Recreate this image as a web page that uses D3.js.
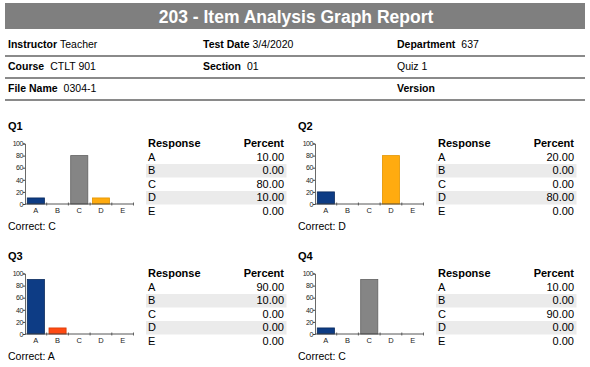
<!DOCTYPE html>
<html>
<head>
<meta charset="utf-8">
<script src="https://cdn.jsdelivr.net/npm/d3@7"></script>
<style>
  html, body { margin: 0; padding: 0; background: #fff; }
  svg { display: block; font-family: "Liberation Sans", Arial, sans-serif; }
</style>
</head>
<body>
<svg id="chart" width="590" height="367"></svg>
<script>
// ---------- DATA ----------
const reportTitle = "203 - Item Analysis Graph Report";
const headerLabels = [["Instructor", "Test Date", "Department"],
                      ["Course", "Section", ""],
                      ["File Name", "", "Version"]];
const headerValues = [["Teacher", "3/4/2020", "637"],
                      ["CTLT 901", "01", "Quiz 1"],
                      ["0304-1", "", ""]];
const questions = ["Q1", "Q2", "Q3", "Q4"];
const responses = ["A", "B", "C", "D", "E"];
const q1Percent = [10, 0, 80, 10, 0];
const q2Percent = [20, 0, 0, 80, 0];
const q3Percent = [90, 10, 0, 0, 0];
const q4Percent = [10, 0, 90, 0, 0];
const correctAnswers = ["C", "D", "A", "C"];
const yTicks = [0, 20, 40, 60, 80, 100];
const tableHeaders = ["Response", "Percent"];

// ---------- STYLE ----------
const barFill = { A: "#0d3c85", B: "#ff4a12", C: "#858585", D: "#ffab0f", E: "#6aa84f" };
const barStroke = { A: "#08285c", B: "#d83a08", C: "#5f5f5f", D: "#e39400", E: "#4a8a30" };

const svg = d3.select("#chart");

// Title bar
svg.append("rect").attr("x", 5).attr("y", 3).attr("width", 580).attr("height", 26).attr("fill", "#7f7f7f");
svg.append("text").attr("x", 296).attr("y", 23).attr("text-anchor", "middle")
  .attr("fill", "#fff").attr("font-weight", "bold").attr("font-size", 17.5).text(reportTitle);

// Header rows
const colX = [8, 203, 397];
const rowY = d3.scaleLinear().domain([0, 1]).range([48, 70]);
headerLabels.forEach((row, r) => {
  row.forEach((lab, c) => {
    const val = headerValues[r][c];
    if (!lab && !val) return;
    const t = svg.append("text").attr("x", colX[c]).attr("y", rowY(r)).attr("font-size", 10.5).attr("fill", "#000");
    if (lab) t.append("tspan").attr("font-weight", "bold").text(lab);
    if (val) t.append("tspan").attr("dx", lab ? (lab === "Instructor" || lab === "Test Date" ? 3 : 6) : 0).text(val);
  });
  svg.append("line").attr("x1", 5).attr("x2", 585)
    .attr("y1", rowY(r) + 8).attr("y2", rowY(r) + 8)
    .attr("stroke", "#8a8a8a").attr("stroke-width", 2);
});

// Panels
const allPercent = [q1Percent, q2Percent, q3Percent, q4Percent];
const panelOffsets = [[0, 0], [290, 0], [0, 130], [290, 130]];

const x = d3.scaleBand().domain(responses).range([25, 133.5]).padding(0);
const y = d3.scaleLinear().domain([0, 100]).range([204, 143.5]);
const rowScale = d3.scaleBand().domain(responses).range([147, 214.5]);

questions.forEach((q, i) => {
  const g = svg.append("g").attr("transform", `translate(${panelOffsets[i][0]},${panelOffsets[i][1] + 120})`);
  const vals = allPercent[i];
  const data = responses.map((r, k) => ({ r, v: vals[k] }));
  const gy = (v) => y(v) - 120;

  g.append("text").attr("x", 8).attr("y", 10).attr("font-weight", "bold").attr("font-size", 11).text(q);

  // bars
  g.selectAll("rect.bar").data(data.filter(d => d.v > 0)).join("rect")
    .attr("class", "bar")
    .attr("x", d => x(d.r) + 2.3)
    .attr("width", x.bandwidth() - 4.6)
    .attr("y", d => gy(d.v))
    .attr("height", d => gy(0) - gy(d.v))
    .attr("fill", d => barFill[d.r])
    .attr("stroke", d => barStroke[d.r])
    .attr("stroke-width", 0.8);

  // y axis
  const yAxis = d3.axisLeft(d3.scaleLinear().domain([0, 100]).range([gy(0), gy(100)]))
    .tickValues(yTicks).tickSize(2).tickPadding(0.3);
  const ya = g.append("g").attr("transform", "translate(25,0)").call(yAxis);
  ya.select(".domain").attr("stroke", "#444").attr("stroke-width", 0.8);
  ya.selectAll(".tick line").attr("stroke", "#444");
  ya.selectAll(".tick text").attr("font-size", 7).attr("fill", "#222").attr("letter-spacing", -0.6)
    .attr("font-family", "'Liberation Sans', Arial, sans-serif");

  // x axis
  g.append("line").attr("x1", 25).attr("x2", 133.5).attr("y1", gy(0)).attr("y2", gy(0))
    .attr("stroke", "#444").attr("stroke-width", 0.9);
  g.selectAll("line.xt").data(responses).join("line").attr("class", "xt")
    .attr("x1", d => x(d) + x.bandwidth()).attr("x2", d => x(d) + x.bandwidth())
    .attr("y1", gy(0) - 1.5).attr("y2", gy(0) + 1.5)
    .attr("stroke", "#444").attr("stroke-width", 0.8);
  g.selectAll("text.xl").data(responses).join("text").attr("class", "xl")
    .attr("x", d => x(d) + x.bandwidth() / 2).attr("y", gy(0) + 8.5)
    .attr("text-anchor", "middle").attr("font-size", 7.5).attr("fill", "#222").text(d => d);

  // Correct label
  g.append("text").attr("x", 8).attr("y", 110).attr("font-size", 10.5).text("Correct: " + correctAnswers[i]);

  // Table
  const ry = (r) => rowScale(r) - 120;
  g.selectAll("rect.shade").data(responses.filter((r, k) => k % 2 === 1)).join("rect").attr("class", "shade")
    .attr("x", 146).attr("width", 140.5)
    .attr("y", d => ry(d) + rowScale.step() - 10)
    .attr("height", rowScale.step())
    .attr("fill", "#ebebeb");
  g.append("text").attr("x", 148).attr("y", ry("A")).attr("font-weight", "bold").attr("font-size", 11).text(tableHeaders[0]);
  g.append("text").attr("x", 284).attr("y", ry("A")).attr("text-anchor", "end").attr("font-weight", "bold").attr("font-size", 11).text(tableHeaders[1]);
  g.selectAll("text.resp").data(data).join("text").attr("class", "resp")
    .attr("x", 148).attr("y", d => ry(d.r) + rowScale.step()).attr("font-size", 11).text(d => d.r);
  g.selectAll("text.pct").data(data).join("text").attr("class", "pct")
    .attr("x", 284).attr("y", d => ry(d.r) + rowScale.step()).attr("text-anchor", "end").attr("font-size", 11)
    .text(d => d3.format(".2f")(d.v));
});
</script>
</body>
</html>
